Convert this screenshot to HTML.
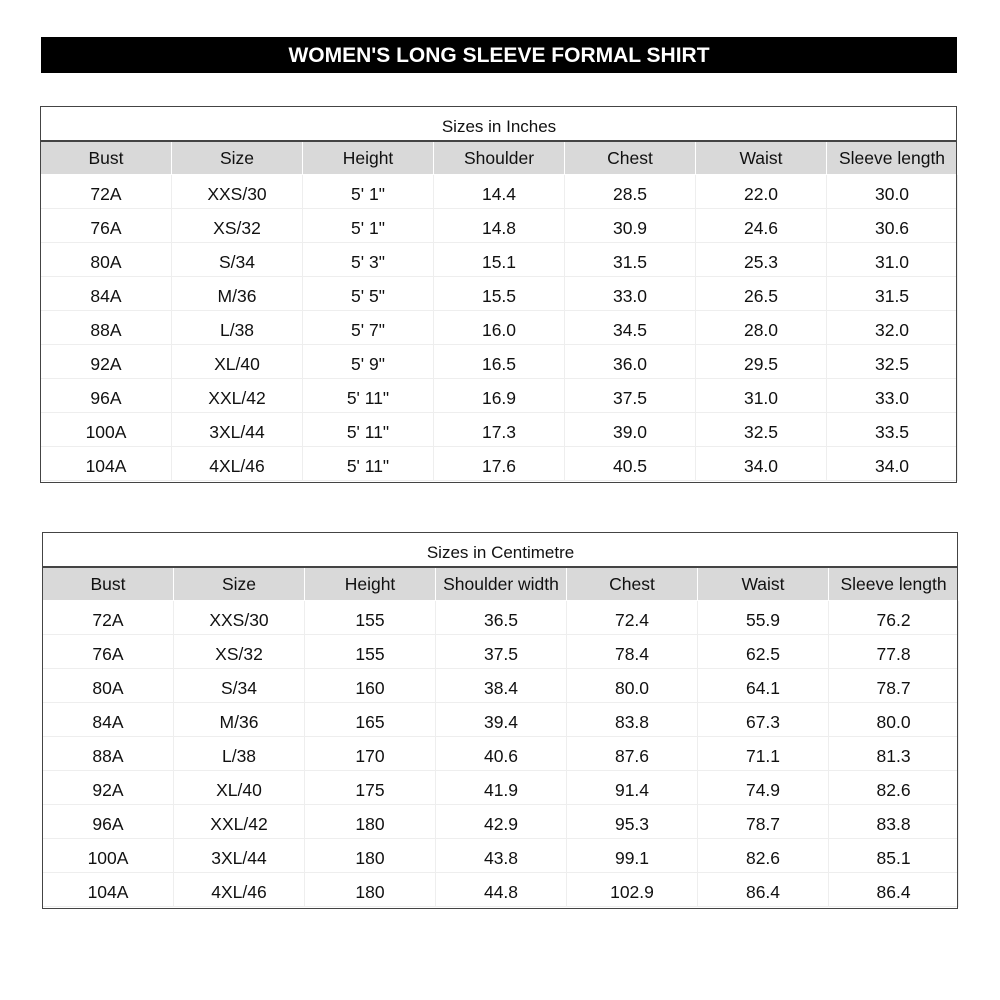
<!DOCTYPE html>
<html><head><meta charset="utf-8"><style>
body{margin:0;width:1000px;height:1000px;background:#fff;position:relative;font-family:"Liberation Sans",sans-serif;color:#111;overflow:hidden}
.title{position:absolute;left:41px;top:37px;width:916px;height:36px;background:#000;color:#fff;font-weight:bold;font-size:21px;text-align:center;line-height:37px}
table{position:absolute;border-collapse:collapse;table-layout:fixed}
tr{height:34px}
td{padding:0;text-align:center;vertical-align:top;font-size:17.5px;border:1px solid #eee;line-height:20px;white-space:nowrap;overflow:hidden;box-sizing:border-box}
tr.b td{padding-top:9px}
tr.cap td{border:none;font-size:17px;padding-top:11px}
tr.hd td{background:#d9d9d9;border:1px solid #fff;border-top:none;padding-top:8px}
.box{position:absolute;border:1.5px solid #444;box-sizing:border-box;pointer-events:none}
.line{position:absolute;height:1.5px;background:#444}
</style></head><body>
<div class="title">WOMEN'S LONG SLEEVE FORMAL SHIRT</div>

<table style="left:40px;top:106px;width:917px">
<colgroup><col style="width:131px"><col style="width:131px"><col style="width:131px"><col style="width:131px"><col style="width:131px"><col style="width:131px"><col style="width:131px"></colgroup>
<tr class="cap"><td colspan="7">Sizes in Inches</td></tr>
<tr class="hd"><td>Bust</td><td>Size</td><td>Height</td><td>Shoulder</td><td>Chest</td><td>Waist</td><td>Sleeve length</td></tr>
<tr class="b"><td>72A</td><td>XXS/30</td><td>5' 1"</td><td>14.4</td><td>28.5</td><td>22.0</td><td>30.0</td></tr>
<tr class="b"><td>76A</td><td>XS/32</td><td>5' 1"</td><td>14.8</td><td>30.9</td><td>24.6</td><td>30.6</td></tr>
<tr class="b"><td>80A</td><td>S/34</td><td>5' 3"</td><td>15.1</td><td>31.5</td><td>25.3</td><td>31.0</td></tr>
<tr class="b"><td>84A</td><td>M/36</td><td>5' 5"</td><td>15.5</td><td>33.0</td><td>26.5</td><td>31.5</td></tr>
<tr class="b"><td>88A</td><td>L/38</td><td>5' 7"</td><td>16.0</td><td>34.5</td><td>28.0</td><td>32.0</td></tr>
<tr class="b"><td>92A</td><td>XL/40</td><td>5' 9"</td><td>16.5</td><td>36.0</td><td>29.5</td><td>32.5</td></tr>
<tr class="b"><td>96A</td><td>XXL/42</td><td>5' 11"</td><td>16.9</td><td>37.5</td><td>31.0</td><td>33.0</td></tr>
<tr class="b"><td>100A</td><td>3XL/44</td><td>5' 11"</td><td>17.3</td><td>39.0</td><td>32.5</td><td>33.5</td></tr>
<tr class="b"><td>104A</td><td>4XL/46</td><td>5' 11"</td><td>17.6</td><td>40.5</td><td>34.0</td><td>34.0</td></tr>
</table>
<div class="box" style="left:40px;top:106px;width:917px;height:377px"></div>
<div class="line" style="left:40px;top:140px;width:917px"></div>

<table style="left:42px;top:532px;width:916px">
<colgroup><col style="width:131px"><col style="width:131px"><col style="width:131px"><col style="width:131px"><col style="width:131px"><col style="width:131px"><col style="width:130px"></colgroup>
<tr class="cap"><td colspan="7">Sizes in Centimetre</td></tr>
<tr class="hd"><td>Bust</td><td>Size</td><td>Height</td><td>Shoulder width</td><td>Chest</td><td>Waist</td><td>Sleeve length</td></tr>
<tr class="b"><td>72A</td><td>XXS/30</td><td>155</td><td>36.5</td><td>72.4</td><td>55.9</td><td>76.2</td></tr>
<tr class="b"><td>76A</td><td>XS/32</td><td>155</td><td>37.5</td><td>78.4</td><td>62.5</td><td>77.8</td></tr>
<tr class="b"><td>80A</td><td>S/34</td><td>160</td><td>38.4</td><td>80.0</td><td>64.1</td><td>78.7</td></tr>
<tr class="b"><td>84A</td><td>M/36</td><td>165</td><td>39.4</td><td>83.8</td><td>67.3</td><td>80.0</td></tr>
<tr class="b"><td>88A</td><td>L/38</td><td>170</td><td>40.6</td><td>87.6</td><td>71.1</td><td>81.3</td></tr>
<tr class="b"><td>92A</td><td>XL/40</td><td>175</td><td>41.9</td><td>91.4</td><td>74.9</td><td>82.6</td></tr>
<tr class="b"><td>96A</td><td>XXL/42</td><td>180</td><td>42.9</td><td>95.3</td><td>78.7</td><td>83.8</td></tr>
<tr class="b"><td>100A</td><td>3XL/44</td><td>180</td><td>43.8</td><td>99.1</td><td>82.6</td><td>85.1</td></tr>
<tr class="b"><td>104A</td><td>4XL/46</td><td>180</td><td>44.8</td><td>102.9</td><td>86.4</td><td>86.4</td></tr>
</table>
<div class="box" style="left:42px;top:532px;width:916px;height:377px"></div>
<div class="line" style="left:42px;top:566px;width:916px"></div>
</body></html>
